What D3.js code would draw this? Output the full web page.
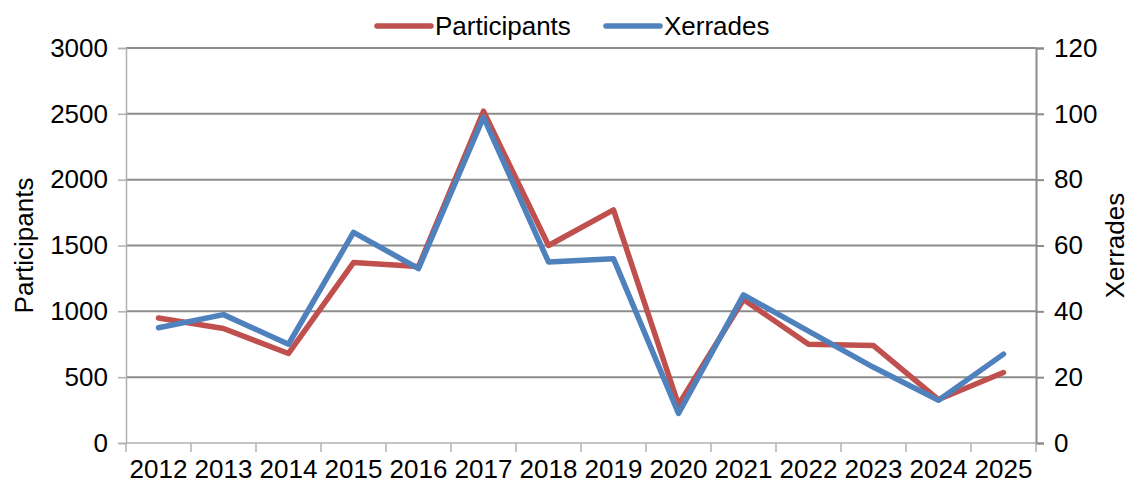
<!DOCTYPE html>
<html>
<head>
<meta charset="utf-8">
<script src="https://cdn.jsdelivr.net/npm/d3@7"></script>
<style>
  body { margin: 0; background: #fff; }
  text { font-family: "Liberation Sans", Arial, sans-serif; fill: #000; }
</style>
</head>
<body>
<script>
var years = ["2012","2013","2014","2015","2016","2017","2018","2019","2020","2021","2022","2023","2024","2025"];
var participants = [950, 870, 680, 1370, 1340, 2520, 1500, 1770, 290, 1090, 750, 740, 330, 535];
var xerrades = [35, 39, 30, 64, 53, 99, 55, 56, 9, 45, 34, 23, 13, 27];
var leftTicks = [0, 500, 1000, 1500, 2000, 2500, 3000];
var rightTicks = [0, 20, 40, 60, 80, 100, 120];

var width = 1131, height = 484;
var margin = {top: 48, right: 95, bottom: 41, left: 126};

var svg = d3.select("body").append("svg")
    .attr("width", width)
    .attr("height", height);

var x = d3.scaleBand()
    .domain(years)
    .range([margin.left, width - margin.right]);

var yL = d3.scaleLinear()
    .domain([0, 3000])
    .range([height - margin.bottom, margin.top]);

var yR = d3.scaleLinear()
    .domain([0, 120])
    .range([height - margin.bottom, margin.top]);

// gridlines
svg.append("g")
  .selectAll("line")
  .data(leftTicks.slice(1))
  .enter().append("line")
    .attr("x1", margin.left)
    .attr("x2", width - margin.right)
    .attr("y1", function(d){ return yL(d); })
    .attr("y2", function(d){ return yL(d); })
    .attr("stroke", "#8c8c8c")
    .attr("stroke-width", 2);

// left axis
var gl = svg.append("g")
    .attr("transform", "translate(" + margin.left + ",0)")
    .call(d3.axisLeft(yL).tickValues(leftTicks).tickFormat(d3.format("d")).tickSize(8).tickPadding(10));
gl.selectAll("path, line").attr("stroke", "#b0b0b0").attr("stroke-width", 1.5);
gl.selectAll("text").style("font-size", "26px").attr("font-family", null);

// right axis
var gr = svg.append("g")
    .attr("transform", "translate(" + (width - margin.right) + ",0)")
    .call(d3.axisRight(yR).tickValues(rightTicks).tickFormat(d3.format("d")).tickSize(8).tickPadding(10));
gr.selectAll("path, line").attr("stroke", "#8c8c8c").attr("stroke-width", 2);
gr.selectAll("text").style("font-size", "26px").attr("font-family", null);

// bottom axis, ticks at band boundaries
var gb = svg.append("g")
    .attr("transform", "translate(0," + (height - margin.bottom) + ")");
gb.append("line")
    .attr("x1", margin.left).attr("x2", width - margin.right)
    .attr("stroke", "#b0b0b0").attr("stroke-width", 1.5);
var bounds = years.map(function(d){ return x(d); }).concat([x.range()[1]]);
gb.selectAll(".tk").data(bounds).enter().append("line")
    .attr("class", "tk")
    .attr("x1", function(d){ return d; })
    .attr("x2", function(d){ return d; })
    .attr("y1", 0).attr("y2", 9)
    .attr("stroke", "#b0b0b0").attr("stroke-width", 1.5);
gb.selectAll("text").data(years).enter().append("text")
    .attr("x", function(d){ return x(d) + x.bandwidth() / 2; })
    .attr("y", 35)
    .attr("text-anchor", "middle")
    .style("font-size", "26px")
    .text(function(d){ return d; });

// lines
var lineL = d3.line()
    .x(function(d, i){ return x(years[i]) + x.bandwidth() / 2; })
    .y(function(d){ return yL(d); });
var lineR = d3.line()
    .x(function(d, i){ return x(years[i]) + x.bandwidth() / 2; })
    .y(function(d){ return yR(d); });

svg.append("path")
    .datum(participants)
    .attr("d", lineL)
    .attr("fill", "none")
    .attr("stroke", "#C0504D")
    .attr("stroke-width", 5.5)
    .attr("stroke-linejoin", "round")
    .attr("stroke-linecap", "round");

svg.append("path")
    .datum(xerrades)
    .attr("d", lineR)
    .attr("fill", "none")
    .attr("stroke", "#4F81BD")
    .attr("stroke-width", 5.5)
    .attr("stroke-linejoin", "round")
    .attr("stroke-linecap", "round");

// axis titles
svg.append("text")
    .attr("transform", "translate(33," + ((margin.top + height - margin.bottom) / 2) + ") rotate(-90)")
    .attr("text-anchor", "middle")
    .style("font-size", "26px")
    .text("Participants");

svg.append("text")
    .attr("transform", "translate(1124," + ((margin.top + height - margin.bottom) / 2) + ") rotate(-90)")
    .attr("text-anchor", "middle")
    .style("font-size", "26px")
    .text("Xerrades");

// legend
var legend = [
  {name: "Participants", color: "#C0504D", x: 377},
  {name: "Xerrades", color: "#4F81BD", x: 606}
];
var lg = svg.append("g").selectAll("g").data(legend).enter().append("g")
    .attr("transform", function(d){ return "translate(" + d.x + ",26)"; });
lg.append("line")
    .attr("x1", 0).attr("x2", 54)
    .attr("stroke", function(d){ return d.color; })
    .attr("stroke-width", 5.5)
    .attr("stroke-linecap", "round");
lg.append("text")
    .attr("x", 58)
    .attr("y", 9)
    .style("font-size", "26px")
    .text(function(d){ return d.name; });
</script>
</body>
</html>
